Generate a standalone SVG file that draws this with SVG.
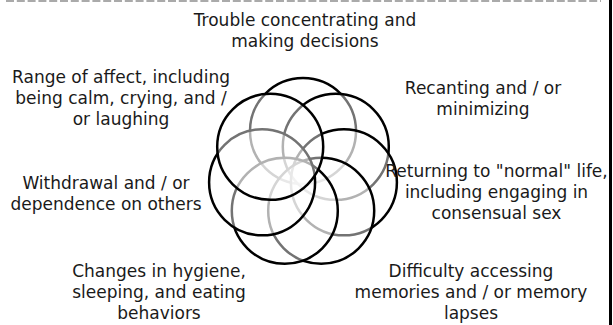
<svg xmlns="http://www.w3.org/2000/svg" width="613" height="325" viewBox="0 0 613 325">
<style>
text{font-family:"DejaVu Sans",Verdana,sans-serif;font-size:17px;fill:#1a1a1a;text-anchor:middle}
.c{fill:#fff;fill-opacity:0.45;stroke:#000;stroke-width:2.5}
</style>
<rect width="613" height="325" fill="#fff"/>
<line x1="6" y1="1" x2="601" y2="1" stroke="#aaa" stroke-width="2" stroke-dasharray="8 2.8"/>
<line x1="610.5" y1="0" x2="610.5" y2="325" stroke="#000" stroke-width="3"/>
<g id="venn">
<circle class="c" cx="303" cy="131" r="53"/>
<circle class="c" cx="335.8" cy="146.8" r="53"/>
<circle class="c" cx="343.9" cy="182.3" r="53"/>
<circle class="c" cx="321.2" cy="210.8" r="53"/>
<circle class="c" cx="284.8" cy="210.8" r="53"/>
<circle class="c" cx="262.1" cy="182.3" r="53"/>
<circle class="c" cx="270.2" cy="146.8" r="53"/>
</g>
<g id="n1"><text x="305" y="26">Trouble concentrating and</text><text x="305" y="47">making decisions</text></g>
<g id="n2"><text x="483" y="94">Recanting and / or</text><text x="483" y="115">minimizing</text></g>
<g id="n3"><text x="496.5" y="177">Returning to "normal" life,</text><text x="496.5" y="198">including engaging in</text><text x="496.5" y="219">consensual sex</text></g>
<g id="n4"><text x="471" y="277">Difficulty accessing</text><text x="471" y="298">memories and / or memory</text><text x="471" y="319">lapses</text></g>
<g id="n5"><text x="159" y="277">Changes in hygiene,</text><text x="159" y="298">sleeping, and eating</text><text x="159" y="319">behaviors</text></g>
<g id="n6"><text x="106" y="189">Withdrawal and / or</text><text x="106" y="210">dependence on others</text></g>
<g id="n7"><text x="121" y="83">Range of affect, including</text><text x="121" y="104">being calm, crying, and /</text><text x="121" y="125">or laughing</text></g>
</svg>
